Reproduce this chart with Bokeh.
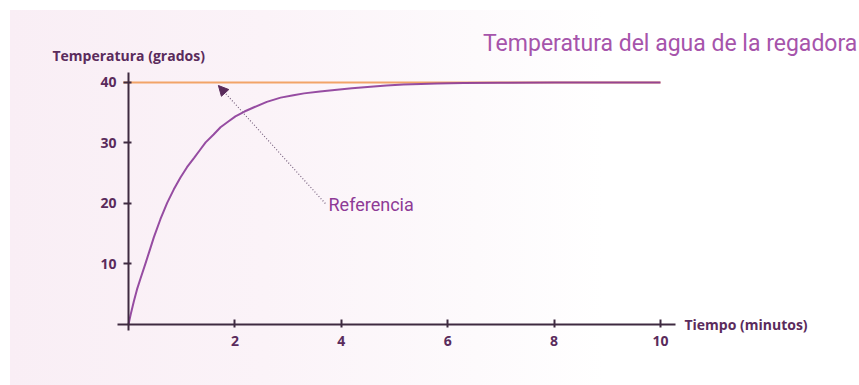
from bokeh.plotting import figure
from bokeh.models import FixedTicker, Label, Arrow, NormalHead, Range1d
from bokeh.embed import file_html
from bokeh.resources import INLINE

# Data
tiempo = [0, 0.05, 0.1, 0.16, 0.226, 0.32, 0.4, 0.476, 0.6, 0.727, 0.85, 0.977, 1.1, 1.23, 1.34,
          1.45, 1.6, 1.73, 1.87, 2.01, 2.18, 2.36, 2.6, 2.86, 3.1, 3.3, 3.6, 3.92, 4.2, 4.55,
          4.85, 5.17, 5.5, 5.8, 6.3, 7.0, 8.0, 9.0, 10.0]
temperatura = [0, 2.0, 3.8, 5.8, 7.6, 10.1, 12.3, 14.4, 17.4, 20.1, 22.3, 24.3, 26.0, 27.5, 28.8,
               30.1, 31.4, 32.6, 33.5, 34.4, 35.2, 35.9, 36.8, 37.5, 37.9, 38.2, 38.5, 38.8, 39.05, 39.3,
               39.5, 39.67, 39.75, 39.82, 39.9, 39.95, 40, 40, 40]
ref_x = [-0.1, 10]
ref_y = [40, 40]
x_ticks = [2, 4, 6, 8, 10]
y_ticks = [10, 20, 30, 40]

TXT = "#5A2B5C"
AX = "#3E2A40"
BOLD_FONT = "Open Sans"

p = figure(width=859, height=385, output_backend="svg", toolbar_location=None,
           x_range=Range1d(-1.654, 13.741), y_range=Range1d(-4.298, 53.55),
           min_border_left=40, min_border_right=0, min_border_top=0, min_border_bottom=35)
p.border_fill_color = None
p.background_fill_color = None
p.outline_line_color = None
p.grid.visible = False
p.styles = {
    "background-image": "linear-gradient(to right, #F9EEF5 0%, #FBF3F8 30%, #FDFAFC 55%, #FFFFFF 70%)",
    "background-position": "10px 10px",
    "background-size": "calc(100% - 10px) calc(100% - 10px)",
    "background-repeat": "no-repeat",
}

for ax in (p.xaxis, p.yaxis):
    ax.axis_line_color = AX
    ax.axis_line_width = 2
    ax.major_tick_line_color = AX
    ax.major_tick_line_width = 2
    ax.minor_tick_line_color = None
    ax.major_label_text_color = TXT
    ax.major_label_text_font = BOLD_FONT
    ax.major_label_text_font_style = "bold"
    ax.major_label_text_font_size = "14px"

p.xaxis.fixed_location = 0
p.yaxis.fixed_location = 0
p.xaxis.bounds = (-0.207, 10.28)
p.yaxis.bounds = (-1.0, 41.65)
p.xaxis.ticker = FixedTicker(ticks=x_ticks)
p.yaxis.ticker = FixedTicker(ticks=y_ticks)
p.xaxis.major_tick_in = 5
p.xaxis.major_tick_out = 3
p.xaxis.major_label_standoff = 9
p.yaxis.major_tick_in = 3
p.yaxis.major_tick_out = 5
p.yaxis.major_label_standoff = 7

p.line(ref_x, ref_y, line_color="#F2A468", line_width=2)
p.line(tiempo, temperatura, line_color="#8B3A98", line_width=2, line_alpha=0.9)

p.add_layout(Arrow(end=NormalHead(size=10, fill_color="#5A2B5C", line_color="#5A2B5C"),
                   x_start=3.70, y_start=20.0, x_end=1.69, y_end=39.5,
                   line_color="#7A6480", line_width=1.2, line_dash="1 2"))

p.add_layout(Label(x=3.76, y=19.8, text="Referencia", text_color="#8E3A96",
                   text_font="Roboto", text_font_size="18px", text_baseline="middle"))
p.add_layout(Label(x=-1.43, y=44.46, text="Temperatura (grados)", text_color=TXT,
                   text_font=BOLD_FONT, text_font_style="bold", text_font_size="14px",
                   text_baseline="middle"))
p.add_layout(Label(x=10.45, y=0.0, text="Tiempo (minutos)", text_color=TXT,
                   text_font=BOLD_FONT, text_font_style="bold", text_font_size="14px",
                   text_baseline="middle"))
p.add_layout(Label(x=13.70, y=46.5, text="Temperatura del agua de la regadora", text_color="#A654AB",
                   text_font="Roboto", text_font_size="23px", text_align="right",
                   text_baseline="middle"))

open("out.html", "w").write(file_html(p, INLINE))
